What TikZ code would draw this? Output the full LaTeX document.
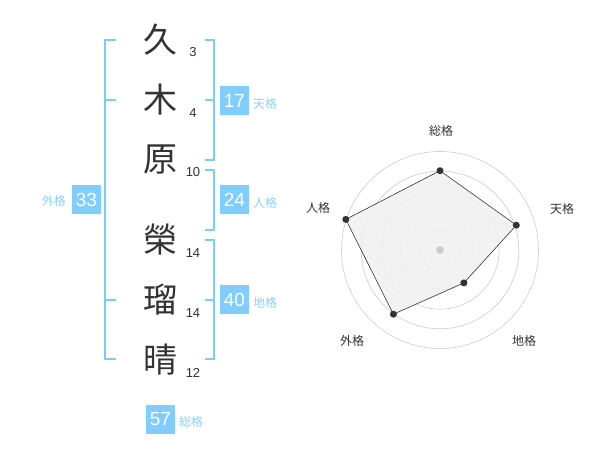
\documentclass[tikz,border=0pt]{standalone}
\usepackage{fontspec}
\setmainfont{Liberation Sans}
\newfontfamily\cjk{Noto Sans CJK JP}
\definecolor{brk}{HTML}{7FCBF7}
\definecolor{boxc}{HTML}{82CDFF}
\definecolor{lblc}{HTML}{8CCFFF}
\definecolor{txt}{HTML}{333333}
\definecolor{ring}{HTML}{CCCCCC}
\definecolor{polyfill}{HTML}{F0F0F0}
\tikzset{
  bracket/.style={draw=brk, line width=1.6pt},
  kanji/.style={text=txt, font=\cjk\fontsize{34}{34}\selectfont, inner sep=0pt},
  strokes/.style={text=txt, font=\fontsize{13}{13}\selectfont, inner sep=0pt},
  numbox/.style={fill=boxc, text=white, font=\fontsize{19}{19}\selectfont, minimum width=29pt, minimum height=29pt, inner sep=0pt},
  kaku/.style={text=lblc, font=\cjk\fontsize{12}{12}\selectfont, inner sep=0pt},
  rlabel/.style={text=txt, font=\cjk\fontsize{12}{12}\selectfont, inner sep=0pt},
  ringc/.style={draw=ring, line width=0.6pt},
  dot/.style={circle, fill=txt, minimum size=7pt, inner sep=0pt},
}
\begin{document}
\begin{tikzpicture}[x=1pt,y=-1pt]
\useasboundingbox (0,0) rectangle (600,470);
% characters
\node[kanji] (c1) at (160,40) {久};
\node[kanji] (c2) at (160,100) {木};
\node[kanji] (c3) at (160,160) {原};
\node[kanji] (c4) at (160,240) {榮};
\node[kanji] (c5) at (160,300) {瑠};
\node[kanji] (c6) at (160,360) {晴};
\node[strokes] (s1) at (193,52) {3};
\node[strokes] (s2) at (193,113) {4};
\node[strokes] (s3) at (193,172) {10};
\node[strokes] (s4) at (193,253) {14};
\node[strokes] (s5) at (193,313) {14};
\node[strokes] (s6) at (193,373) {12};
% left bracket (外格)
\draw[bracket] (116,40) -- (105,40) -- (105,359) -- (116,359);
\draw[bracket] (105,100) -- (116,100);
\draw[bracket] (105,300) -- (116,300);
% right brackets
\draw[bracket] (205,40) -- (214,40) -- (214,160) -- (205,160);
\draw[bracket] (205,100) -- (214,100);
\draw[bracket] (205,170) -- (214,170) -- (214,230) -- (205,230);
\draw[bracket] (205,240) -- (214,240) -- (214,359) -- (205,359);
\draw[bracket] (205,300) -- (214,300);
% boxes
\node[numbox] (b33) at (86.5,200) {33};
\node[kaku, anchor=east] (l33) at (66,201) {外格};
\node[numbox] (b17) at (234.5,101) {17};
\node[kaku, anchor=west] (l17) at (253,104) {天格};
\node[numbox] (b24) at (234.5,200) {24};
\node[kaku, anchor=west] (l24) at (253,203) {人格};
\node[numbox] (b40) at (234.5,300) {40};
\node[kaku, anchor=west] (l40) at (253,303) {地格};
\node[numbox] (b57) at (160.5,419) {57};
\node[kaku, anchor=west] (l57) at (179,422) {総格};
% radar chart
\coordinate (ctr) at (440,250);
\foreach \r in {19.7,39.4,59.1,78.8,98.5}
  \draw[ringc] (ctr) circle[radius=\r];
\fill[ring] (ctr) circle[radius=3.8];
\path (ctr) ++(0,-79.3) coordinate (p1);
\path (ctr) ++(76.3,-24.8) coordinate (p2);
\path (ctr) ++(23.9,32.9) coordinate (p3);
\path (ctr) ++(-46.6,64.2) coordinate (p4);
\path (ctr) ++(-94.2,-30.6) coordinate (p5);
\draw[fill=polyfill, fill opacity=0.85, draw=txt, line width=0.6pt] (p1) -- (p2) -- (p3) -- (p4) -- (p5) -- cycle;
\fill[ring] (ctr) circle[radius=3.8];
\foreach \p in {p1,p2,p3,p4,p5}
  \node[dot] at (\p) {};
\node[rlabel] (r1) at (441,131) {総格};
\node[rlabel] (r2) at (562,209) {天格};
\node[rlabel] (r3) at (524,341) {地格};
\node[rlabel] (r4) at (352,341) {外格};
\node[rlabel] (r5) at (318,208) {人格};
\end{tikzpicture}
\end{document}
